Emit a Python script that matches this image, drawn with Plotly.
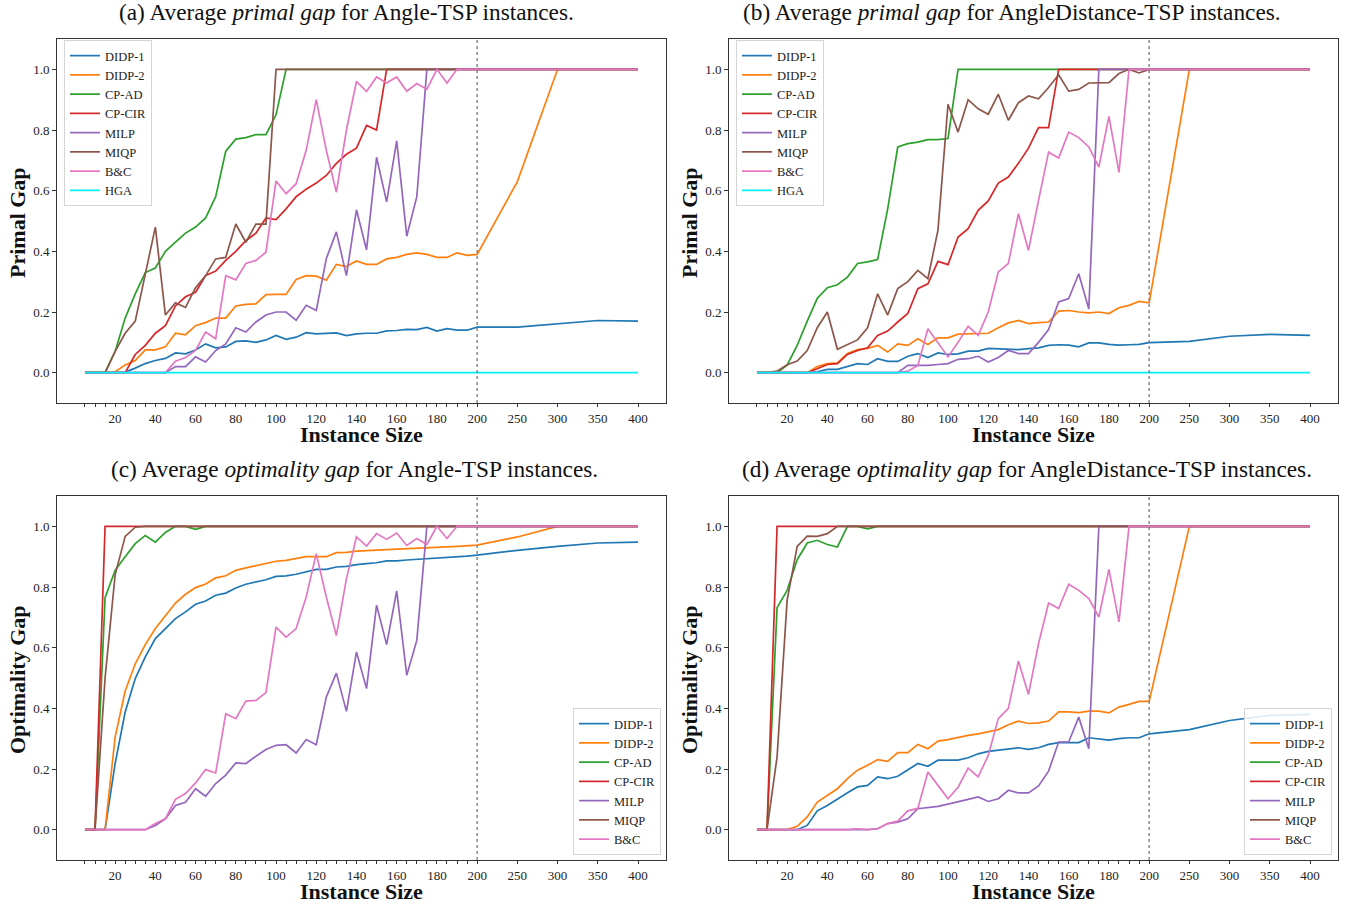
import plotly.graph_objects as go

# ---------------- data ----------------
SIZES = [5, 10, 15, 20, 25, 30, 35, 40, 45, 50, 55, 60, 65, 70, 75, 80, 85, 90, 95, 100,
         105, 110, 115, 120, 125, 130, 135, 140, 145, 150, 155, 160, 165, 170, 175, 180,
         185, 190, 195, 200, 250, 300, 350, 400]
TICK_LABELS = [20, 40, 60, 80, 100, 120, 140, 160, 180, 200, 250, 300, 350, 400]
Y_TICKS = [0.0, 0.2, 0.4, 0.6, 0.8, 1.0]

SERIES_NAMES = ["DIDP-1", "DIDP-2", "CP-AD", "CP-CIR", "MILP", "MIQP", "B&C", "HGA"]
COLORS = {"DIDP-1": "#1f77b4", "DIDP-2": "#ff7f0e", "CP-AD": "#2ca02c", "CP-CIR": "#d62728",
          "MILP": "#9467bd", "MIQP": "#8c564b", "B&C": "#e377c2", "HGA": "#00f0f8"}

# (a) primal gap, Angle-TSP
a_didp1 = [0, 0, 0, 0, 0.002, 0.015, 0.03, 0.04, 0.047, 0.065, 0.062, 0.075, 0.095, 0.082, 0.085,
           0.103, 0.105, 0.10, 0.108, 0.123, 0.11, 0.117, 0.132, 0.128, 0.13, 0.131, 0.122, 0.128,
           0.13, 0.13, 0.138, 0.139, 0.143, 0.142, 0.149, 0.137, 0.145, 0.14, 0.14, 0.15,
           0.15, 0.16, 0.172, 0.17]
a_didp2 = [0, 0, 0, 0.003, 0.025, 0.04, 0.075, 0.075, 0.085, 0.13, 0.125, 0.155, 0.165, 0.18, 0.18,
           0.22, 0.225, 0.227, 0.257, 0.258, 0.258, 0.307, 0.32, 0.318, 0.305, 0.357, 0.35, 0.368,
           0.357, 0.357, 0.375, 0.38, 0.39, 0.395, 0.39, 0.38, 0.38, 0.395, 0.387, 0.39,
           0.63, 1.0, 1.0, 1.0]
a_cpad = [0, 0, 0, 0.07, 0.18, 0.26, 0.33, 0.345, 0.40, 0.43, 0.46, 0.48, 0.51, 0.58, 0.73, 0.77,
          0.775, 0.785, 0.785, 0.85, 1.0, 1.0, 1.0, 1.0, 1.0, 1.0, 1.0, 1.0, 1.0, 1.0, 1.0, 1.0,
          1.0, 1.0, 1.0, 1.0, 1.0, 1.0, 1.0, 1.0, 1.0, 1.0, 1.0, 1.0]
a_cpcir = [0, 0, 0, 0, 0, 0.06, 0.09, 0.13, 0.155, 0.22, 0.25, 0.265, 0.32, 0.335, 0.37, 0.40,
           0.435, 0.46, 0.51, 0.505, 0.54, 0.58, 0.605, 0.625, 0.65, 0.69, 0.72, 0.74, 0.815,
           0.80, 1.0, 1.0, 1.0, 1.0, 1.0, 1.0, 1.0, 1.0, 1.0, 1.0, 1.0, 1.0, 1.0, 1.0]
a_milp = [0, 0, 0, 0, 0, 0, 0, 0, 0, 0.02, 0.02, 0.052, 0.035, 0.073, 0.095, 0.148, 0.134, 0.167,
          0.19, 0.2, 0.2, 0.173, 0.222, 0.205, 0.376, 0.464, 0.32, 0.537, 0.405, 0.71, 0.563,
          0.764, 0.45, 0.58, 1.0, 1.0, 1.0, 1.0, 1.0, 1.0, 1.0, 1.0, 1.0, 1.0]
a_miqp = [0, 0, 0, 0.07, 0.13, 0.17, 0.33, 0.48, 0.19, 0.23, 0.215, 0.28, 0.32, 0.375, 0.38, 0.49,
          0.43, 0.49, 0.49, 1.0, 1.0, 1.0, 1.0, 1.0, 1.0, 1.0, 1.0, 1.0, 1.0, 1.0, 1.0, 1.0, 1.0,
          1.0, 1.0, 1.0, 1.0, 1.0, 1.0, 1.0, 1.0, 1.0, 1.0, 1.0]
a_bc = [0, 0, 0, 0, 0, 0, 0, 0, 0, 0.038, 0.05, 0.073, 0.134, 0.112, 0.32, 0.306, 0.36, 0.37,
        0.397, 0.632, 0.59, 0.623, 0.733, 0.90, 0.733, 0.595, 0.80, 0.96, 0.927, 0.975, 0.955,
        0.975, 0.928, 0.953, 0.934, 1.0, 0.955, 1.0, 1.0, 1.0, 1.0, 1.0, 1.0, 1.0]
a_hga = [0, 0, 0, 0, 0, 0, 0, 0, 0, 0, 0, 0, 0, 0, 0, 0, 0, 0, 0, 0, 0, 0, 0, 0, 0, 0, 0, 0,
         0, 0, 0, 0, 0, 0, 0, 0, 0, 0, 0, 0, 0, 0, 0, 0]

# (b) primal gap, AngleDistance-TSP
b_didp1 = [0, 0, 0, 0, 0, 0, 0.003, 0.011, 0.011, 0.02, 0.03, 0.027, 0.046, 0.037, 0.037, 0.054,
           0.063, 0.05, 0.065, 0.06, 0.062, 0.071, 0.071, 0.08, 0.079, 0.079, 0.076, 0.079, 0.082,
           0.09, 0.092, 0.091, 0.085, 0.098, 0.098, 0.093, 0.091, 0.092, 0.093, 0.099,
           0.103, 0.12, 0.126, 0.123]
b_didp2 = [0, 0, 0, 0, 0, 0, 0.02, 0.03, 0.032, 0.063, 0.076, 0.08, 0.09, 0.068, 0.095, 0.09,
           0.112, 0.093, 0.115, 0.115, 0.127, 0.128, 0.13, 0.13, 0.148, 0.164, 0.172, 0.162, 0.165,
           0.167, 0.203, 0.205, 0.2, 0.197, 0.2, 0.195, 0.214, 0.222, 0.235, 0.23,
           1.0, 1.0, 1.0, 1.0]
b_cpad = [0, 0, 0, 0.025, 0.09, 0.17, 0.245, 0.28, 0.29, 0.315, 0.36, 0.365, 0.373, 0.54, 0.744,
          0.755, 0.76, 0.768, 0.768, 0.772, 1.0, 1.0, 1.0, 1.0, 1.0, 1.0, 1.0, 1.0, 1.0, 1.0, 1.0,
          1.0, 1.0, 1.0, 1.0, 1.0, 1.0, 1.0, 1.0, 1.0, 1.0, 1.0, 1.0, 1.0]
b_cpcir = [0, 0, 0, 0, 0, 0, 0.013, 0.027, 0.03, 0.06, 0.073, 0.082, 0.123, 0.137, 0.167, 0.195,
           0.277, 0.293, 0.367, 0.356, 0.447, 0.475, 0.535, 0.566, 0.625, 0.645, 0.69, 0.74,
           0.808, 0.808, 1.0, 1.0, 1.0, 1.0, 1.0, 1.0, 1.0, 1.0, 1.0, 1.0, 1.0, 1.0, 1.0, 1.0]
b_milp = [0, 0, 0, 0, 0, 0, 0, 0, 0, 0, 0, 0, 0, 0, 0, 0.024, 0.024, 0.024, 0.027, 0.03, 0.044,
          0.046, 0.054, 0.035, 0.05, 0.073, 0.063, 0.063, 0.1, 0.142, 0.233, 0.244, 0.326, 0.21,
          1.0, 1.0, 1.0, 1.0, 1.0, 1.0, 1.0, 1.0, 1.0, 1.0]
b_miqp = [0, 0, 0.005, 0.026, 0.038, 0.073, 0.148, 0.2, 0.077, 0.093, 0.108, 0.148, 0.26, 0.19,
          0.277, 0.3, 0.337, 0.31, 0.47, 0.885, 0.793, 0.90, 0.87, 0.852, 0.918, 0.832, 0.89,
          0.912, 0.903, 0.94, 0.982, 0.928, 0.934, 0.955, 0.955, 0.956, 0.986, 1.0, 0.988, 1.0,
          1.0, 1.0, 1.0, 1.0]
b_bc = [0, 0, 0, 0, 0, 0, 0, 0, 0, 0, 0, 0, 0, 0, 0, 0.005, 0.024, 0.145, 0.1, 0.052, 0.1, 0.153,
        0.123, 0.2, 0.332, 0.36, 0.524, 0.403, 0.568, 0.727, 0.708, 0.793, 0.775, 0.744, 0.678,
        0.845, 0.66, 1.0, 1.0, 1.0, 1.0, 1.0, 1.0, 1.0]
b_hga = [0, 0, 0, 0, 0, 0, 0, 0, 0, 0, 0, 0, 0, 0, 0, 0, 0, 0, 0, 0, 0, 0, 0, 0, 0, 0, 0, 0,
         0, 0, 0, 0, 0, 0, 0, 0, 0, 0, 0, 0, 0, 0, 0, 0]

# (c) optimality gap, Angle-TSP
c_didp1 = [0, 0, 0, 0.218, 0.388, 0.498, 0.57, 0.63, 0.663, 0.696, 0.718, 0.743, 0.754, 0.773,
           0.78, 0.797, 0.809, 0.816, 0.824, 0.835, 0.837, 0.842, 0.85, 0.858, 0.858, 0.866, 0.868,
           0.874, 0.877, 0.88, 0.886, 0.886, 0.889, 0.891, 0.893, 0.894, 0.897, 0.899, 0.902, 0.905,
           0.921, 0.934, 0.945, 0.948]
c_didp2 = [0, 0, 0, 0.305, 0.457, 0.547, 0.61, 0.663, 0.707, 0.747, 0.776, 0.798, 0.81, 0.83,
           0.837, 0.855, 0.863, 0.87, 0.877, 0.885, 0.888, 0.895, 0.9, 0.9, 0.9, 0.913, 0.914,
           0.918, 0.919, 0.921, 0.923, 0.925, 0.926, 0.929, 0.93, 0.931, 0.932, 0.934, 0.936, 0.938,
           0.965, 1.0, 1.0, 1.0]
c_cpad = [0, 0, 0.765, 0.855, 0.9, 0.943, 0.97, 0.948, 0.98, 1.0, 1.0, 0.99, 1.0, 1.0, 1.0, 1.0,
          1.0, 1.0, 1.0, 1.0, 1.0, 1.0, 1.0, 1.0, 1.0, 1.0, 1.0, 1.0, 1.0, 1.0, 1.0, 1.0, 1.0, 1.0,
          1.0, 1.0, 1.0, 1.0, 1.0, 1.0, 1.0, 1.0, 1.0, 1.0]
c_cpcir = [0, 0, 1.0, 1.0, 1.0, 1.0, 1.0, 1.0, 1.0, 1.0, 1.0, 1.0, 1.0, 1.0, 1.0, 1.0, 1.0, 1.0,
           1.0, 1.0, 1.0, 1.0, 1.0, 1.0, 1.0, 1.0, 1.0, 1.0, 1.0, 1.0, 1.0, 1.0, 1.0, 1.0, 1.0, 1.0,
           1.0, 1.0, 1.0, 1.0, 1.0, 1.0, 1.0, 1.0]
c_milp = [0, 0, 0, 0, 0, 0, 0, 0.014, 0.036, 0.08, 0.09, 0.135, 0.11, 0.152, 0.18, 0.22, 0.218,
          0.242, 0.264, 0.278, 0.28, 0.253, 0.297, 0.28, 0.437, 0.516, 0.39, 0.586, 0.465, 0.74,
          0.61, 0.787, 0.509, 0.624, 1.0, 1.0, 1.0, 1.0, 1.0, 1.0, 1.0, 1.0, 1.0, 1.0]
c_miqp = [0, 0, 0.5, 0.84, 0.967, 0.997, 1.0, 1.0, 1.0, 1.0, 1.0, 1.0, 1.0, 1.0, 1.0, 1.0, 1.0,
          1.0, 1.0, 1.0, 1.0, 1.0, 1.0, 1.0, 1.0, 1.0, 1.0, 1.0, 1.0, 1.0, 1.0, 1.0, 1.0, 1.0, 1.0,
          1.0, 1.0, 1.0, 1.0, 1.0, 1.0, 1.0, 1.0, 1.0]
c_bc = [0, 0, 0, 0, 0, 0, 0, 0.02, 0.036, 0.1, 0.119, 0.154, 0.198, 0.187, 0.382, 0.366, 0.424,
        0.426, 0.452, 0.668, 0.635, 0.663, 0.767, 0.91, 0.767, 0.64, 0.827, 0.965, 0.935, 0.976,
        0.957, 0.978, 0.937, 0.96, 0.94, 1.0, 0.96, 1.0, 1.0, 1.0, 1.0, 1.0, 1.0, 1.0]

# (d) optimality gap, AngleDistance-TSP
d_didp1 = [0, 0, 0, 0, 0, 0.014, 0.062, 0.08, 0.102, 0.122, 0.141, 0.146, 0.174, 0.168, 0.176,
           0.198, 0.218, 0.209, 0.229, 0.229, 0.229, 0.237, 0.25, 0.258, 0.262, 0.264, 0.27, 0.265,
           0.27, 0.281, 0.287, 0.287, 0.287, 0.303, 0.3, 0.295, 0.3, 0.303, 0.303, 0.316,
           0.33, 0.36, 0.377, 0.38]
d_didp2 = [0, 0, 0, 0, 0.011, 0.042, 0.091, 0.113, 0.135, 0.168, 0.196, 0.212, 0.231, 0.225,
           0.254, 0.254, 0.281, 0.267, 0.292, 0.297, 0.305, 0.311, 0.316, 0.322, 0.33, 0.346, 0.358,
           0.35, 0.352, 0.358, 0.388, 0.388, 0.386, 0.391, 0.391, 0.385, 0.404, 0.413, 0.423, 0.423,
           1.0, 1.0, 1.0, 1.0]
d_cpad = [0, 0, 0.732, 0.789, 0.89, 0.945, 0.954, 0.94, 0.932, 1.0, 1.0, 0.992, 1.0, 1.0, 1.0,
          1.0, 1.0, 1.0, 1.0, 1.0, 1.0, 1.0, 1.0, 1.0, 1.0, 1.0, 1.0, 1.0, 1.0, 1.0, 1.0, 1.0, 1.0,
          1.0, 1.0, 1.0, 1.0, 1.0, 1.0, 1.0, 1.0, 1.0, 1.0, 1.0]
d_cpcir = [0, 0, 1.0, 1.0, 1.0, 1.0, 1.0, 1.0, 1.0, 1.0, 1.0, 1.0, 1.0, 1.0, 1.0, 1.0, 1.0, 1.0,
           1.0, 1.0, 1.0, 1.0, 1.0, 1.0, 1.0, 1.0, 1.0, 1.0, 1.0, 1.0, 1.0, 1.0, 1.0, 1.0, 1.0, 1.0,
           1.0, 1.0, 1.0, 1.0, 1.0, 1.0, 1.0, 1.0]
d_milp = [0, 0, 0, 0, 0, 0, 0, 0, 0, 0, 0, 0, 0.003, 0.02, 0.025, 0.036, 0.069, 0.073, 0.077,
          0.084, 0.091, 0.1, 0.108, 0.093, 0.102, 0.13, 0.121, 0.121, 0.144, 0.193, 0.289, 0.289,
          0.371, 0.267, 1.0, 1.0, 1.0, 1.0, 1.0, 1.0, 1.0, 1.0, 1.0, 1.0]
d_miqp = [0, 0, 0.24, 0.756, 0.934, 0.968, 0.967, 0.976, 1.0, 1.0, 1.0, 1.0, 1.0, 1.0, 1.0, 1.0,
          1.0, 1.0, 1.0, 1.0, 1.0, 1.0, 1.0, 1.0, 1.0, 1.0, 1.0, 1.0, 1.0, 1.0, 1.0, 1.0, 1.0, 1.0,
          1.0, 1.0, 1.0, 1.0, 1.0, 1.0, 1.0, 1.0, 1.0, 1.0]
d_bc = [0, 0, 0, 0, 0, 0, 0, 0, 0, 0, 0.003, 0.0, 0.003, 0.02, 0.028, 0.062, 0.07, 0.19, 0.146,
        0.102, 0.14, 0.203, 0.174, 0.245, 0.366, 0.4, 0.556, 0.446, 0.613, 0.747, 0.729, 0.809,
        0.789, 0.762, 0.701, 0.858, 0.685, 1.0, 1.0, 1.0, 1.0, 1.0, 1.0, 1.0]

PANELS = [
    dict(title="(a) Average <i>primal gap</i> for Angle-TSP instances.", ylabel="Primal Gap",
         series=[a_didp1, a_didp2, a_cpad, a_cpcir, a_milp, a_miqp, a_bc, a_hga]),
    dict(title="(b) Average <i>primal gap</i> for AngleDistance-TSP instances.", ylabel="Primal Gap",
         series=[b_didp1, b_didp2, b_cpad, b_cpcir, b_milp, b_miqp, b_bc, b_hga]),
    dict(title="(c) Average <i>optimality gap</i> for Angle-TSP instances.", ylabel="Optimality Gap",
         series=[c_didp1, c_didp2, c_cpad, c_cpcir, c_milp, c_miqp, c_bc]),
    dict(title="(d) Average <i>optimality gap</i> for AngleDistance-TSP instances.", ylabel="Optimality Gap",
         series=[d_didp1, d_didp2, d_cpad, d_cpcir, d_milp, d_miqp, d_bc]),
]


# piecewise x scale: linear up to 200, compressed beyond
def xpos(s):
    return s if s <= 200 else 200 + (s - 200) * 0.4


# ---------------- layout geometry (pixels) ----------------
W, H = 1347, 905
FONT = "Liberation Serif, Times New Roman, serif"
BOX = [  # left, right, top, bottom
    (57, 666, 39, 403),
    (729, 1338, 39, 403),
    (57, 666, 496, 860),
    (729, 1338, 496, 860),
]
TITLE_CENTER = [346, 1012, 354, 1027]
LEGEND_POS = [
    dict(x=64 / W, y=1 - 40 / H, xanchor="left", yanchor="top"),
    dict(x=736 / W, y=1 - 40 / H, xanchor="left", yanchor="top"),
    dict(x=661 / W, y=1 - 855 / H, xanchor="right", yanchor="bottom"),
    dict(x=1332 / W, y=1 - 855 / H, xanchor="right", yanchor="bottom"),
]

fig = go.Figure()
xs = [xpos(s) for s in SIZES]
tickvals = [xpos(s) for s in SIZES]
ticktext = [str(s) if s in TICK_LABELS else "" for s in SIZES]

annotations = []
shapes = []
layout = {}
for i, p in enumerate(PANELS):
    k = "" if i == 0 else str(i + 1)
    lg = "legend" if i == 0 else "legend" + str(i + 1)
    for name, vals in zip(SERIES_NAMES, p["series"]):
        fig.add_trace(go.Scatter(
            x=xs, y=vals, mode="lines", name=name,
            line=dict(color=COLORS[name], width=1.7),
            xaxis="x" + k, yaxis="y" + k, legend=lg, showlegend=True))
    l, r, t, b = BOX[i]
    layout["xaxis" + k] = dict(
        domain=[l / W, r / W], anchor="y" + k, range=[-8.9, 293.9],
        tickmode="array", tickvals=tickvals, ticktext=ticktext,
        ticks="outside", ticklen=3, tickwidth=1, tickcolor="#333",
        showline=True, linecolor="#333", linewidth=1, mirror=True,
        showgrid=False, zeroline=False, automargin=False,
        tickfont=dict(family=FONT, size=13, color="#222"))
    layout["yaxis" + k] = dict(
        domain=[1 - b / H, 1 - t / H], anchor="x" + k, range=[-0.1, 1.1],
        tickmode="array", tickvals=Y_TICKS, ticktext=[f"{v:.1f}" for v in Y_TICKS],
        ticks="outside", ticklen=4, tickwidth=1, tickcolor="#333",
        showline=True, linecolor="#333", linewidth=1, mirror=True,
        showgrid=False, zeroline=False, automargin=False,
        tickfont=dict(family=FONT, size=13, color="#222"))
    layout[lg] = dict(
        **LEGEND_POS[i], bgcolor="rgba(255,255,255,0.85)", bordercolor="#d5d5d5",
        borderwidth=1, font=dict(family=FONT, size=12.5, color="#222"),
        itemwidth=30, tracegroupgap=0)
    # vertical dotted reference line at 200
    shapes.append(dict(type="line", xref="x" + k, yref="y" + k + " domain",
                       x0=xpos(200), x1=xpos(200), y0=0, y1=1,
                       line=dict(color="#777", width=1.3, dash="dot")))
    cx = (l + r) / 2 / W
    # subplot title
    annotations.append(dict(text=p["title"], x=TITLE_CENTER[i] / W, y=1 - (t - 27) / H,
                            xref="paper", yref="paper",
                            xanchor="center", yanchor="middle", showarrow=False,
                            font=dict(family=FONT, size=23.3, color="#111")))
    # x title
    annotations.append(dict(text="<b>Instance Size</b>", x=cx, y=1 - (b + 31.5) / H, xref="paper",
                            yref="paper", xanchor="center", yanchor="middle", showarrow=False,
                            font=dict(family=FONT, size=22, color="#111")))
    # y title
    annotations.append(dict(text="<b>" + p["ylabel"] + "</b>", x=(l - 40) / W,
                            y=1 - ((t + b) / 2 + 2) / H, xref="paper", yref="paper",
                            xanchor="center", yanchor="middle", textangle=-90, showarrow=False,
                            font=dict(family=FONT, size=22, color="#111")))

fig.update_layout(
    width=W, height=H, margin=dict(l=0, r=0, t=0, b=0),
    paper_bgcolor="white", plot_bgcolor="white",
    annotations=annotations, shapes=shapes, **layout)

fig.write_html("out.html", config={"displayModeBar": False},
               post_script="document.body.style.margin='0';")
